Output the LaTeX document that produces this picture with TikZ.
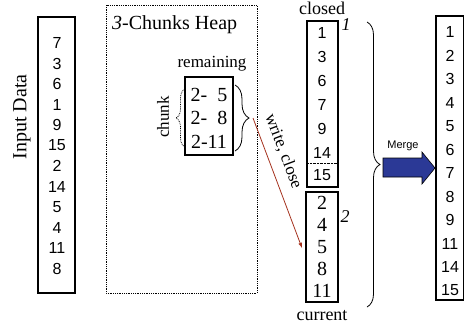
\documentclass[tikz,border=0pt]{standalone}
\usepackage{fontspec}
\setmainfont{Liberation Serif}
\setsansfont{Liberation Sans}
\usepackage{tikz}
\usetikzlibrary{decorations.pathreplacing}

\definecolor{mergeblue}{RGB}{43,57,150}
\definecolor{writered}{RGB}{165,50,30}

\begin{document}
\begin{tikzpicture}[x=1pt,y=-1pt]
\tikzset{box/.style = {draw,line width=1.4pt,inner sep=0pt}}
\tikzset{num/.style = {font=\sffamily\fontsize{16}{16}\selectfont,inner sep=0pt}}
\tikzset{rnum/.style = {font=\fontsize{20}{20}\selectfont,inner sep=0pt}}
\tikzset{lbl/.style = {font=\fontsize{18}{18}\selectfont,inner sep=0pt}}
\tikzset{edge/.style = {->,>=latex,thick,writered}}
\useasboundingbox (0,0) rectangle (465,325);
% input column
\draw[box] (38,17) rectangle (75,293);
\node[lbl,rotate=90,font=\fontsize{20}{20}\selectfont] (inlabel) at (22,117) {Input Data};
\foreach \v [count=\i] in {7,3,6,1,9,15,2,14,5,4,11,8}
  \node[num] (in\i) at (57,{43+20.5*(\i-1)}) {\v};
% the heap
\draw[densely dotted,thick] (106,5) rectangle (257,293);
\node[lbl,anchor=west,font=\fontsize{20}{20}\selectfont] (heaplabel) at (112,25) {\textit{3}-Chunks Heap};
\draw[box] (185,77) rectangle (233,155);
\node[lbl,font=\fontsize{17}{17}\selectfont] (remaining) at (212,64) {remaining};
\node[rnum] (h1) at (209,95) {2-\phantom{1}5};
\node[rnum] (h2) at (209,118) {2-\phantom{1}8};
\node[rnum] (h3) at (209,142) {2-11};
\draw[densely dotted,thick,decorate,decoration={brace,amplitude=9pt}] (185,147) -- (185,89);
\node[lbl,rotate=90,font=\fontsize{17}{17}\selectfont] (chunk) at (163,117) {chunk};
\draw[thick,decorate,decoration={brace,amplitude=14pt}] (235,85) -- (235,151);
\coordinate (heaptip) at (253,118);
% closed run
\node[lbl] (closed) at (322,8) {closed};
\draw[box] (307,21) rectangle (338,187);
\draw[densely dotted] (307,163) -- (338,163);
\foreach \v [count=\i] in {1,3,6,7,9,14}
  \node[num] (c\i) at (322,{33+24*(\i-1)}) {\v};
\node[num] (c7) at (322,175) {15};
\node[lbl,font=\itshape\fontsize{18}{18}\selectfont] (run1) at (346,25) {1};
% current run
\draw[box] (306,192) rectangle (338,302);
\foreach \v [count=\i] in {2,4,5,8,11}
  \node[rnum] (r\i) at (322,{203+22*(\i-1)}) {\v};
\node[lbl,font=\itshape\fontsize{18}{18}\selectfont] (run2) at (345,217) {2};
\node[lbl] (current) at (322,316) {current};
\coordinate (wr) at (302,248);
\draw[edge] (heaptip) -- node[lbl,sloped,above=9pt,pos=0.3,text=black,font=\fontsize{17}{17}\selectfont] (wrlabel) {write, close} (wr);
% merge into the output
\draw[thick,decorate,decoration={brace,amplitude=13pt}] (367,22) -- (367,307);
\draw[fill=mergeblue,line width=0.6pt] (383,158) -- (422,158) -- (422,152) -- (435,168)
  -- (422,184) -- (422,177) -- (383,177) -- cycle;
\node[font=\sffamily\fontsize{11}{11}\selectfont] (mergelabel) at (403,146) {Merge};
\draw[box] (436,16) rectangle (463.5,300);
\foreach \v [count=\i] in {1,2,3,4,5,6,7,8,9,11,14,15}
  \node[num] (o\i) at (450,{32+23.5*(\i-1)}) {\v};
\end{tikzpicture}
\end{document}
